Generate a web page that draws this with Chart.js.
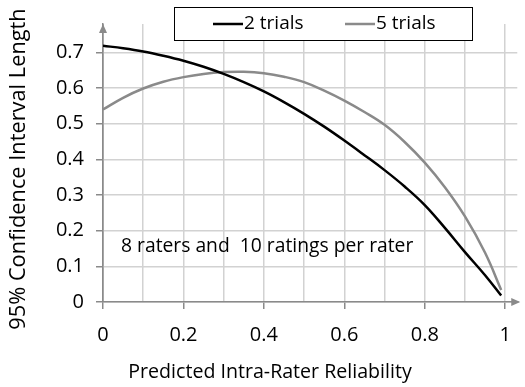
<!DOCTYPE html>
<html>
<head>
<meta charset="utf-8">
<script src="https://cdn.jsdelivr.net/npm/chart.js@4"></script>
<style>
  html, body { margin: 0; padding: 0; background: #fff; }
  #wrap { width: 525px; height: 387px; }
</style>
</head>
<body>
<div id="wrap"><canvas id="chart"></canvas></div>
<script>
const reliability = [0, 0.05, 0.1, 0.15, 0.2, 0.25, 0.3, 0.35, 0.4, 0.45, 0.5, 0.55, 0.6, 0.65, 0.7, 0.75, 0.8, 0.85, 0.9, 0.95, 0.99];
const twoTrials = [0.719, 0.712, 0.703, 0.691, 0.677, 0.660, 0.640, 0.617, 0.591, 0.561, 0.528, 0.492, 0.453, 0.412, 0.370, 0.324, 0.272, 0.208, 0.140, 0.075, 0.018];
const fiveTrials = [0.540, 0.573, 0.599, 0.618, 0.631, 0.640, 0.645, 0.646, 0.642, 0.632, 0.617, 0.593, 0.565, 0.533, 0.497, 0.449, 0.391, 0.322, 0.240, 0.138, 0.034];
const xTickValues = [0, 0.1, 0.2, 0.3, 0.4, 0.5, 0.6, 0.7, 0.8, 0.9, 1];
const yTickValues = [0, 0.1, 0.2, 0.3, 0.4, 0.5, 0.6, 0.7];
const seriesNames = ['2 trials', '5 trials'];
const xTitle = 'Predicted Intra-Rater Reliability';
const yTitle = '95% Confidence Interval Length';
const note = '8 raters and  10 ratings per rater';

const FONT = '"Open Sans", sans-serif';
const AXIS = '#8a8a8a';
const GRID = '#d2d2d2';

function toPoints(ys) {
  return reliability.map((x, i) => ({ x: x, y: ys[i] }));
}

function isMajor(v) {
  return Math.round(v * 10) % 2 === 0;
}

// arrows, legend box, axis titles and the note text
const extras = {
  id: 'extras',
  afterDraw(chart) {
    const ctx = chart.ctx;
    const a = chart.chartArea;
    const x0 = chart.scales.x.getPixelForValue(0);
    const y0 = chart.scales.y.getPixelForValue(0);
    ctx.save();
    ctx.fillStyle = AXIS;
    ctx.beginPath();
    ctx.moveTo(x0, a.top);
    ctx.lineTo(x0 - 4, a.top + 9);
    ctx.lineTo(x0 + 4, a.top + 9);
    ctx.closePath();
    ctx.fill();
    ctx.beginPath();
    ctx.moveTo(a.right + 3, y0);
    ctx.lineTo(a.right - 6, y0 - 4);
    ctx.lineTo(a.right - 6, y0 + 4);
    ctx.closePath();
    ctx.fill();

    // legend
    ctx.fillStyle = '#fff';
    ctx.fillRect(174.5, 7.5, 298, 33);
    ctx.strokeStyle = '#000';
    ctx.lineWidth = 1;
    ctx.strokeRect(174.5, 7.5, 298, 33);
    ctx.font = '19px ' + FONT;
    ctx.textBaseline = 'middle';
    [[213, 0], [345, 1]].forEach(([lx, i]) => {
      const ds = chart.data.datasets[i];
      ctx.strokeStyle = ds.borderColor;
      ctx.lineWidth = 2.5;
      ctx.beginPath();
      ctx.moveTo(lx, 24);
      ctx.lineTo(lx + 30, 24);
      ctx.stroke();
      ctx.fillStyle = '#000';
      ctx.fillText(ds.label, lx + 31, 24);
    });

    ctx.fillStyle = '#000';
    ctx.font = '19.3px ' + FONT;
    ctx.fillText(note, 121, 247);
    ctx.textAlign = 'center';
    ctx.font = '19.6px ' + FONT;
    ctx.fillText(xTitle, 270, 372);

    ctx.translate(25, 169);
    ctx.rotate(-Math.PI / 2);
    ctx.textBaseline = 'alphabetic';
    ctx.font = '21.8px ' + FONT;
    ctx.fillText(yTitle, 0, 0);
    ctx.restore();
  }
};

new Chart(document.getElementById('chart'), {
  type: 'line',
  data: {
    datasets: [
      { label: seriesNames[0], data: toPoints(twoTrials), borderColor: '#000', borderWidth: 2.5, pointRadius: 0, tension: 0.4 },
      { label: seriesNames[1], data: toPoints(fiveTrials), borderColor: '#8a8a8a', borderWidth: 2.5, pointRadius: 0, tension: 0.4 }
    ]
  },
  options: {
    responsive: true,
    maintainAspectRatio: false,
    animation: false,
    layout: { padding: { top: 22, right: 3, left: 0, bottom: 0 } },
    plugins: { legend: { display: false }, tooltip: { enabled: false } },
    scales: {
      x: {
        type: 'linear',
        min: 0,
        max: 1.03,
        afterFit: s => { s.height = 85; },
        afterBuildTicks: s => { s.ticks = xTickValues.map(v => ({ value: v })); },
        grid: {
          color: ctx => ctx.tick && ctx.tick.value === 0 ? AXIS : GRID,
          lineWidth: 1.5,
          tickLength: 7,
          tickColor: ctx => isMajor(ctx.tick.value) ? AXIS : 'rgba(0,0,0,0)'
        },
        border: { color: AXIS, width: 1.5 },
        ticks: {
          padding: 14,
          color: '#000',
          font: { family: FONT, size: 20 },
          maxRotation: 0,
          autoSkip: false,
          callback: v => isMajor(v) ? String(v) : ''
        }
      },
      y: {
        min: 0,
        max: 0.78,
        afterFit: s => { s.width = 103; },
        afterBuildTicks: s => { s.ticks = yTickValues.map(v => ({ value: v })); },
        grid: { color: GRID, lineWidth: 1.5, tickLength: 7, tickColor: AXIS },
        border: { color: AXIS, width: 1.5 },
        ticks: {
          padding: 12,
          color: '#000',
          font: { family: FONT, size: 20 },
          callback: v => String(v)
        }
      }
    }
  },
  plugins: [extras]
});
</script>
</body>
</html>
